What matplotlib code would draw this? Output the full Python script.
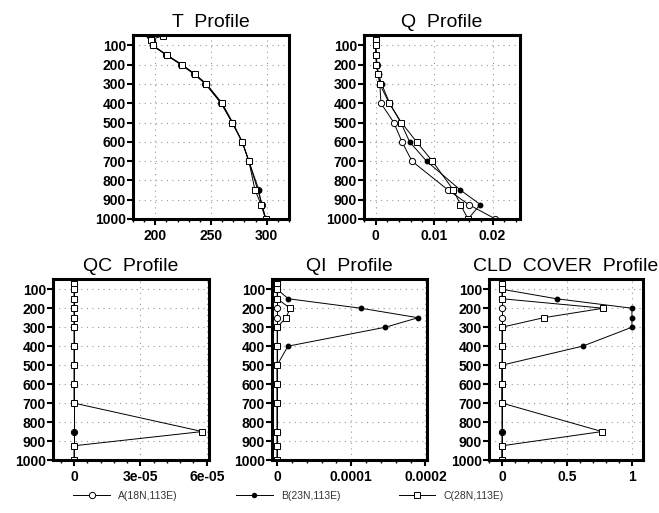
import numpy as np
import matplotlib
matplotlib.use("Agg")
import matplotlib.pyplot as plt
from matplotlib.ticker import AutoMinorLocator
from matplotlib.lines import Line2D

plt.rcParams['font.family'] = ['Liberation Sans', 'DejaVu Sans']

levels = [50, 70, 100, 150, 200, 250, 300, 400, 500, 600, 700, 850, 925, 1000]

t_a = [196, 197, 198, 210, 223, 235, 245, 259, 269, 278, 284, 292, 296, 299]
t_b = [194, 196, 197, 210, 224, 236, 246, 260, 269.5, 278, 284, 293, 295, 299.5]
t_c = [207, 196, 198, 210.5, 224, 235.5, 245.5, 259.5, 269, 278, 284, 289.5, 295, 299]

q_a = [0, 0, 0, 0.0001, 0.0002, 0.0004, 0.0007, 0.0009, 0.0031, 0.0045, 0.0062, 0.0124, 0.0159, 0.0205]
q_b = [0, 0, 0, 0.0001, 0.0002, 0.0005, 0.0010, 0.0024, 0.0043, 0.0058, 0.0087, 0.0145, 0.0179, 0.0158]
q_c = [0, 0, 0, 0.0000, 0.0001, 0.0004, 0.0007, 0.0023, 0.0044, 0.0070, 0.0097, 0.0133, 0.0145, 0.0158]

qc_a = [0] * 14
qc_b = [0] * 14
qc_c = [0, 0, 0, 0, 0, 0, 0, 0, 0, 0, 0, 5.8e-05, 0, 0]

qi_a = [0] * 14
qi_b = [0, 0, 0, 1.5e-05, 1.13e-04, 1.9e-04, 1.46e-04, 1.45e-05, 0, 0, 0, 0, 0, 0]
qi_c = [0, 0, 0, 0, 1.75e-05, 1.2e-05, 0, 0, 0, 0, 0, 0, 0, 0]

cld_a = [0] * 14
cld_b = [0, 0, 0, 0.42, 1.0, 1.0, 1.0, 0.62, 0, 0, 0, 0, 0, 0]
cld_c = [0, 0, 0, 0, 0.78, 0.32, 0, 0, 0, 0, 0, 0.77, 0, 0]

names = ['A(18N,113E)', 'B(23N,113E)', 'C(28N,113E)']

fig = plt.figure(figsize=(6.59, 5.13), dpi=100)


def profile(rect, title, a, b, c, xlim, xticks, xlabels):
    ax = fig.add_axes(rect)
    ax.plot(a, levels, '-', color='k', lw=0.7, marker='o', ms=4.5, mfc='white', mec='k', mew=0.7)
    ax.plot(b, levels, '-', color='k', lw=0.7, marker='o', ms=3.2, mfc='k', mec='k')
    ax.plot(c, levels, '-', color='k', lw=0.7, marker='s', ms=5, mfc='white', mec='k', mew=0.7)
    ax.set_ylim(1000, 46)
    ax.set_xlim(*xlim)
    ax.set_yticks(range(100, 1001, 100))
    ax.set_xticks(xticks)
    ax.set_xticklabels(xlabels)
    ax.xaxis.set_minor_locator(AutoMinorLocator(5))
    ax.grid(True, which='major', ls=(0, (1, 4)), color='#999999', lw=0.8)
    ax.tick_params(which='major', direction='out', length=4, width=1.5, labelsize=10)
    ax.tick_params(which='minor', direction='out', length=2, width=1)
    ax.tick_params(axis='y', pad=1)
    for lab in ax.get_xticklabels() + ax.get_yticklabels():
        lab.set_fontweight('bold')
    for s in ax.spines.values():
        s.set_linewidth(2.2)
    ax.set_title(title, fontsize=14, pad=6)
    return ax


profile([0.2018, 0.5731, 0.2367, 0.3587], 'T  Profile', t_a, t_b, t_c,
        (180, 320), [200, 250, 300], ['200', '250', '300'])
profile([0.5524, 0.5731, 0.2367, 0.3587], 'Q  Profile', q_a, q_b, q_c,
        (-0.002, 0.0247), [0, 0.01, 0.02], ['0', '0.01', '0.02'])
profile([0.0804, 0.1033, 0.2367, 0.3528], 'QC  Profile', qc_a, qc_b, qc_c,
        (-0.95e-05, 6.1e-05), [0, 3e-05, 6e-05], ['0', '3e-05', '6e-05'])
profile([0.4127, 0.1033, 0.2352, 0.3528], 'QI  Profile', qi_a, qi_b, qi_c,
        (-0.7e-05, 2.02e-04), [0, 1e-04, 2e-04], ['0', '0.0001', '0.0002'])
profile([0.742, 0.1033, 0.2337, 0.3528], 'CLD  COVER  Profile', cld_a, cld_b, cld_c,
        (-0.1, 1.085), [0, 0.5, 1], ['0', '0.5', '1'])

# legend row at the bottom
styles = [dict(marker='o', ms=4.5, mfc='white'), dict(marker='o', ms=3.2, mfc='k'),
          dict(marker='s', ms=5, mfc='white')]
handles = [Line2D([], [], color='k', lw=0.7, mec='k', mew=0.7, **st) for st in styles]
fig.legend(handles, names, loc='lower left', bbox_to_anchor=(0.097, 0.005), ncol=3,
           frameon=False, fontsize=7.5, handlelength=3.5, columnspacing=5.6,
           labelcolor='#333333')

fig.savefig('out.png', dpi=100)
